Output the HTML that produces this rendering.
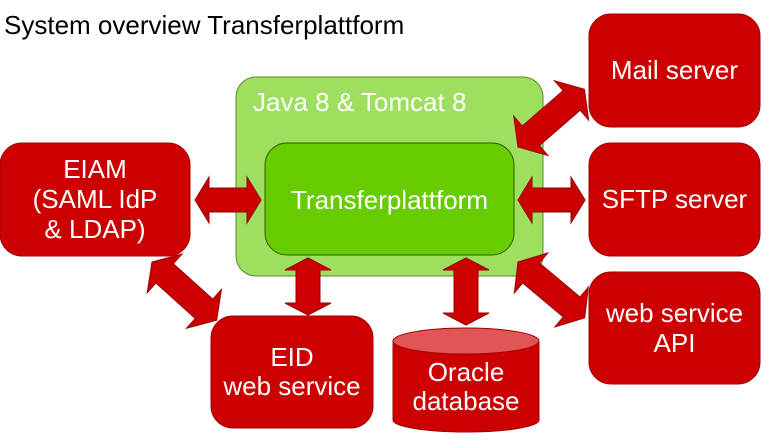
<!DOCTYPE html>
<html><head><meta charset="utf-8"><style>
body{margin:0;width:771px;height:443px;overflow:hidden;background:#fff;font-family:"Liberation Sans",sans-serif}
</style></head><body>
<svg width="771" height="443" viewBox="0 0 771 443" xmlns="http://www.w3.org/2000/svg" font-family="Liberation Sans, sans-serif">
<text x="4" y="34" font-size="26" fill="#000">System overview Transferplattform</text>
<rect x="589" y="14" width="171" height="113" rx="22" fill="#cc0000" stroke="#a00000"/>
<text x="674.5" y="79" font-size="26" fill="#fff" text-anchor="middle">Mail server</text>
<rect x="589" y="143" width="171" height="113" rx="22" fill="#cc0000" stroke="#a00000"/>
<text x="674.5" y="208" font-size="26" fill="#fff" text-anchor="middle">SFTP server</text>
<rect x="589" y="272" width="171" height="112" rx="22" fill="#cc0000" stroke="#a00000"/>
<text x="674.5" y="322" font-size="26" fill="#fff" text-anchor="middle">web service</text>
<text x="674.5" y="352" font-size="26" fill="#fff" text-anchor="middle">API</text>
<rect x="0" y="143" width="190" height="113" rx="22" fill="#cc0000" stroke="#a00000"/>
<text x="95" y="178" font-size="26" fill="#fff" text-anchor="middle">EIAM</text>
<text x="95" y="208" font-size="26" fill="#fff" text-anchor="middle">(SAML IdP</text>
<text x="95" y="238" font-size="26" fill="#fff" text-anchor="middle">&amp; LDAP)</text>
<rect x="211" y="316" width="162" height="112" rx="22" fill="#cc0000" stroke="#a00000"/>
<text x="292" y="366" font-size="26" fill="#fff" text-anchor="middle">EID</text>
<text x="292" y="395" font-size="26" fill="#fff" text-anchor="middle">web service</text>
<path d="M393,341 L393,420 A73,12 0 0 0 539,420 L539,341 Z" fill="#cc0000" stroke="#a00000"/>
<ellipse cx="466" cy="341" rx="73" ry="13" fill="#e05555" stroke="#a00000"/>
<text x="466" y="381" font-size="26" fill="#fff" text-anchor="middle">Oracle</text>
<text x="466" y="410" font-size="26" fill="#fff" text-anchor="middle">database</text>
<rect x="236" y="77" width="307" height="199" rx="20" fill="#9fdf5f" stroke="#5a8a2a"/>
<text x="253" y="111" font-size="26" fill="#fff">Java 8 &amp; Tomcat 8</text>
<rect x="265" y="143" width="249" height="112" rx="22" fill="#66cc00" stroke="#2f5f00"/>
<text x="389.5" y="209" font-size="26" fill="#fff" text-anchor="middle">Transferplattform</text>
<g fill="#cc0000" stroke="#990000" stroke-width="1">
<polygon points="195,200 209,177 209,188 247,188 247,177 261,200 247,223 247,212 209,212 209,223"/>
<polygon points="518,200 532,177 532,188 571,188 571,177 585,200 571,223 571,212 532,212 532,223"/>
<polygon points="308,258 285,270 296,270 296,303 285,303 308,315 331,303 320,303 320,270 331,270"/>
<polygon points="466,258 443,270 454,270 454,313 443,313 466,325 489,313 478,313 478,270 489,270"/>
<g transform="translate(518,147) rotate(-41)">
<polygon points="0,0 17,-26 17,-13 71,-13 71,-26 88,0 71,26 71,13 17,13 17,26"/>
</g>
<g transform="translate(152,262) rotate(42)">
<polygon points="0,0 17,-26 17,-13 70,-13 70,-26 87,0 70,26 70,13 17,13 17,26"/>
</g>
<g transform="translate(518,262) rotate(40)">
<polygon points="0,0 17,-26 17,-13 70,-13 70,-26 87,0 70,26 70,13 17,13 17,26"/>
</g>
</g>
</svg>
</body></html>
